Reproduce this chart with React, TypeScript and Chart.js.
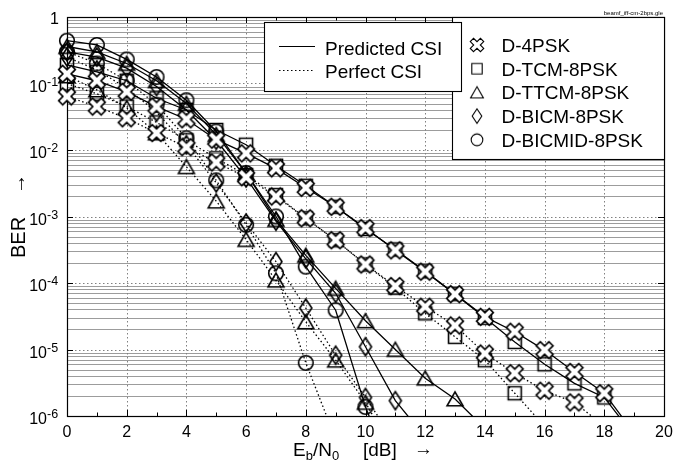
import React, { useEffect, useRef } from "react";
import { Chart, registerables } from "chart.js";
Chart.register(...registerables);

// ---------- data (Eb/N0 in dB, BER) ----------
const EBN0 = [0, 1, 2, 3, 4, 5, 6, 7, 8, 9, 10, 11, 12, 13, 14, 15, 16, 17, 18, 19];

const D4PSK_PREDICTED = [0.14, 0.11, 0.075, 0.045, 0.029, 0.0143, 0.0089, 0.0053, 0.0027, 0.0014, 6.7e-4, 3.1e-4, 1.48e-4, 6.8e-5, 3.1e-5, 1.85e-5, 9.8e-6, 4.6e-6, 2.2e-6, 5.5e-7];
const D4PSK_PERFECT = [0.064, 0.045, 0.03, 0.018, 0.011, 0.0065, 0.0039, 0.002, 9.4e-4, 4.4e-4, 1.9e-4, 9e-5, 4.4e-5, 2.3e-5, 8.7e-6, 4.4e-6, 2.4e-6, 1.6e-6, 7e-7];
const DTCM_PREDICTED = [0.19, 0.15, 0.11, 0.06, 0.04, 0.02, 0.012, 0.0058, 0.0029, 0.0014, 6.5e-4, 3.2e-4, 1.5e-4, 6.8e-5, 3.0e-5, 1.3e-5, 6e-6, 3.1e-6, 1.9e-6, 5e-7];
const DTCM_PERFECT = [0.1, 0.07, 0.045, 0.026, 0.014, 0.0075, 0.0042, 0.0021, 9.4e-4, 4.4e-4, 1.9e-4, 8.5e-5, 3.5e-5, 1.55e-5, 6.9e-6, 2.2e-6, 7e-7];
const DTTCM_PREDICTED = [0.36, 0.3, 0.2, 0.11, 0.05, 0.017, 4.5e-3, 9e-4, 2.6e-4, 8.3e-5, 2.7e-5, 1e-5, 3.7e-6, 1.8e-6, 6.5e-7];
const DTTCM_PERFECT = [0.13, 0.08, 0.043, 0.018, 5.6e-3, 1.7e-3, 4.5e-4, 1.1e-4, 2.6e-5, 6.9e-6, 1.6e-6, 2.5e-7];
const DBICM_PREDICTED = [0.3, 0.25, 0.17, 0.09, 0.04, 0.014, 3.8e-3, 8.5e-4, 2.3e-4, 7e-5, 1.1e-5, 1.7e-6, 4.8e-7];
const DBICM_PERFECT = [0.25, 0.16, 0.085, 0.037, 0.012, 3.2e-3, 8e-4, 2.1e-4, 4.2e-5, 8.2e-6, 1.9e-6, 4e-7];
const DBICMID_PREDICTED = [0.44, 0.38, 0.23, 0.125, 0.056, 0.019, 4.5e-3, 1e-3, 1.76e-4, 3.9e-5, 1.37e-6, 1e-7];
const DBICMID_PERFECT = [0.3, 0.2, 0.11, 0.048, 0.015, 3.5e-3, 7.5e-4, 1.4e-4, 6.3e-6, 4.5e-7];

const SCHEMES = ["D-4PSK", "D-TCM-8PSK", "D-TTCM-8PSK", "D-BICM-8PSK", "D-BICMID-8PSK"];
const MARKERS = ["x", "square", "triangle", "diamond", "circle"];
const CSI_LABELS = ["Predicted CSI", "Perfect CSI"];

const X_TICKS = [0, 2, 4, 6, 8, 10, 12, 14, 16, 18, 20];
const Y_EXPONENTS = [0, -1, -2, -3, -4, -5, -6];
const FILE_NAME = "beamf_iff-cm-2bps.gle";

const FONT = '"Liberation Sans", Arial, Helvetica, sans-serif';

function markerCanvas(kind: string, scale = 1, lw = 1.6): HTMLCanvasElement {
  const size = 26;
  const c = document.createElement("canvas");
  c.width = size;
  c.height = size;
  const ctx = c.getContext("2d") as CanvasRenderingContext2D;
  ctx.translate(size / 2, size / 2);
  ctx.scale(scale, scale);
  ctx.lineWidth = lw / scale;
  ctx.strokeStyle = "#000";
  ctx.lineJoin = "miter";
  ctx.beginPath();
  if (kind === "x") {
    const a = 2.9, L = 9;
    const pts = [[a, L], [a, a], [L, a], [L, -a], [a, -a], [a, -L], [-a, -L], [-a, -a], [-L, -a], [-L, a], [-a, a], [-a, L]];
    const r = Math.PI / 4;
    pts.forEach(([x, y], i) => {
      const xr = x * Math.cos(r) - y * Math.sin(r);
      const yr = x * Math.sin(r) + y * Math.cos(r);
      if (i === 0) ctx.moveTo(xr, yr);
      else ctx.lineTo(xr, yr);
    });
    ctx.closePath();
    ctx.fillStyle = "#fff";
    ctx.fill();
    ctx.stroke();
  } else if (kind === "square") {
    ctx.rect(-6.5, -6.5, 13, 13);
    ctx.stroke();
  } else if (kind === "triangle") {
    ctx.moveTo(0, -7.2);
    ctx.lineTo(8, 6.8);
    ctx.lineTo(-8, 6.8);
    ctx.closePath();
    ctx.stroke();
  } else if (kind === "diamond") {
    ctx.moveTo(0, -9);
    ctx.lineTo(6, 0);
    ctx.lineTo(0, 9);
    ctx.lineTo(-6, 0);
    ctx.closePath();
    ctx.stroke();
  } else {
    ctx.arc(0, 0, 7.3, 0, Math.PI * 2);
    ctx.stroke();
  }
  return c;
}

const SERIES = [
  { name: "D-4PSK predicted", values: D4PSK_PREDICTED, marker: 0, dotted: false },
  { name: "D-4PSK perfect", values: D4PSK_PERFECT, marker: 0, dotted: true },
  { name: "D-TCM-8PSK predicted", values: DTCM_PREDICTED, marker: 1, dotted: false },
  { name: "D-TCM-8PSK perfect", values: DTCM_PERFECT, marker: 1, dotted: true },
  { name: "D-TTCM-8PSK predicted", values: DTTCM_PREDICTED, marker: 2, dotted: false },
  { name: "D-TTCM-8PSK perfect", values: DTTCM_PERFECT, marker: 2, dotted: true },
  { name: "D-BICM-8PSK predicted", values: DBICM_PREDICTED, marker: 3, dotted: false },
  { name: "D-BICM-8PSK perfect", values: DBICM_PERFECT, marker: 3, dotted: true },
  { name: "D-BICMID-8PSK predicted", values: DBICMID_PREDICTED, marker: 4, dotted: false },
  { name: "D-BICMID-8PSK perfect", values: DBICMID_PERFECT, marker: 4, dotted: true },
];

const DOT = [1.5, 2.5];

const decorPlugin = {
  id: "decor",
  beforeDatasetsDraw(chart: any) {
    const { ctx, chartArea: a, scales } = chart;
    const xs = scales.x, ys = scales.y;
    ctx.save();
    // minor horizontal grid (solid grey)
    ctx.strokeStyle = "#9c9c9c";
    ctx.lineWidth = 1;
    for (let e = -6; e < 0; e++) {
      for (let m = 2; m <= 9; m++) {
        const y = Math.round(ys.getPixelForValue(m * Math.pow(10, e))) + 0.5;
        ctx.beginPath();
        ctx.moveTo(a.left, y);
        ctx.lineTo(a.right, y);
        ctx.stroke();
      }
    }
    // major horizontal grid (dotted)
    ctx.setLineDash(DOT);
    ctx.strokeStyle = "#808080";
    for (let e = -5; e < 0; e++) {
      const y = Math.round(ys.getPixelForValue(Math.pow(10, e))) + 0.5;
      ctx.beginPath();
      ctx.moveTo(a.left, y);
      ctx.lineTo(a.right, y);
      ctx.stroke();
    }
    // vertical grid (dotted)
    X_TICKS.slice(1, -1).forEach((v) => {
      const x = Math.round(xs.getPixelForValue(v)) + 0.5;
      ctx.beginPath();
      ctx.moveTo(x, a.top);
      ctx.lineTo(x, a.bottom);
      ctx.stroke();
    });
    ctx.setLineDash([]);
    // ticks
    ctx.strokeStyle = "#000";
    for (let v = 0; v <= 20; v++) {
      const x = Math.round(xs.getPixelForValue(v)) + 0.5;
      const len = v % 2 === 0 ? 6 : 3.5;
      ctx.beginPath();
      ctx.moveTo(x, a.bottom);
      ctx.lineTo(x, a.bottom - len);
      ctx.moveTo(x, a.top);
      ctx.lineTo(x, a.top + len);
      ctx.stroke();
    }
    Y_EXPONENTS.forEach((e) => {
      const y = Math.round(ys.getPixelForValue(Math.pow(10, e))) + 0.5;
      ctx.beginPath();
      ctx.moveTo(a.left, y);
      ctx.lineTo(a.left + 6, y);
      ctx.moveTo(a.right, y);
      ctx.lineTo(a.right - 6, y);
      ctx.stroke();
    });
    // frame
    ctx.lineWidth = 1.2;
    ctx.strokeRect(Math.round(a.left) + 0.5, Math.round(a.top) + 0.5, Math.round(a.right - a.left), Math.round(a.bottom - a.top));
    ctx.restore();
  },
  afterDatasetsDraw(chart: any) {
    const { ctx, chartArea: a, scales } = chart;
    const xs = scales.x, ys = scales.y;
    ctx.save();
    ctx.fillStyle = "#000";
    ctx.textBaseline = "alphabetic";

    // legend box 2 (schemes)
    ctx.fillStyle = "#fff";
    ctx.fillRect(452, a.top, a.right - 452, 159 - a.top);
    ctx.strokeStyle = "#000";
    ctx.lineWidth = 1.1;
    ctx.strokeRect(452.5, Math.round(a.top) + 0.5, Math.round(a.right) - 452, 159 - Math.round(a.top));
    ctx.fillStyle = "#000";
    ctx.font = `19px ${FONT}`;
    ctx.textAlign = "left";
    SCHEMES.forEach((s, i) => {
      const cy = 45 + 23.7 * i;
      const m = markerCanvas(MARKERS[i], 0.8, 1.1);
      ctx.drawImage(m, 477 - m.width / 2, cy - m.height / 2);
      ctx.fillText(s, 501.5, cy + 7);
    });

    // legend box 1 (CSI)
    ctx.fillStyle = "#fff";
    ctx.fillRect(264.5, 22.5, 197, 69);
    ctx.strokeStyle = "#000";
    ctx.strokeRect(264.5, 22.5, 197, 69);
    ctx.lineWidth = 1.2;
    ctx.beginPath();
    ctx.moveTo(279, 46.5);
    ctx.lineTo(315, 46.5);
    ctx.stroke();
    ctx.setLineDash(DOT);
    ctx.beginPath();
    ctx.moveTo(279, 70.5);
    ctx.lineTo(315, 70.5);
    ctx.stroke();
    ctx.setLineDash([]);
    ctx.fillStyle = "#000";
    ctx.fillText(CSI_LABELS[0], 325, 54.5);
    ctx.fillText(CSI_LABELS[1], 325, 78);

    // x tick labels
    ctx.font = `16px ${FONT}`;
    ctx.textAlign = "center";
    X_TICKS.forEach((v) => {
      ctx.fillText(String(v), xs.getPixelForValue(v), a.bottom + 20.5);
    });
    // y tick labels
    Y_EXPONENTS.forEach((e) => {
      const y = ys.getPixelForValue(Math.pow(10, e));
      if (e === 0) {
        ctx.font = `16px ${FONT}`;
        ctx.textAlign = "right";
        ctx.fillText("1", 59, y + 7);
      } else {
        ctx.font = `16px ${FONT}`;
        ctx.textAlign = "right";
        ctx.fillText("10", 47, y + 8);
        ctx.font = `12.5px ${FONT}`;
        ctx.textAlign = "left";
        ctx.fillText(String(e), 47, y + 2.3);
      }
    });

    // x axis title: E_b/N_0 [dB] ->
    const by = 456;
    let x = 293;
    const seg = (t: string, size: number, dy: number) => {
      ctx.font = `${size}px ${FONT}`;
      ctx.textAlign = "left";
      ctx.fillText(t, x, by + dy);
      x += ctx.measureText(t).width;
    };
    seg("E", 19, 0);
    seg("b", 13, 4);
    seg("/N", 19, 0);
    seg("0", 13, 4);
    x = 363;
    seg("[dB]", 19, 0);
    x = 414;
    seg("\u2192", 19, -1);

    // y axis title: BER ->
    ctx.save();
    ctx.translate(25, 258);
    ctx.rotate(-Math.PI / 2);
    ctx.font = `20px ${FONT}`;
    ctx.textAlign = "left";
    ctx.fillText("BER", 0, 0);
    ctx.fillText("\u2192", 64, 0);
    ctx.restore();

    // file name
    ctx.font = `6px ${FONT}`;
    ctx.textAlign = "right";
    ctx.fillText(FILE_NAME, 663, 15);
    ctx.restore();
  },
};

export default function App() {
  const ref = useRef<HTMLCanvasElement | null>(null);
  useEffect(() => {
    if (!ref.current) return;
    const datasets = SERIES.map((s) => ({
      label: s.name,
      data: s.values.map((v, i) => ({ x: EBN0[i], y: v })),
      borderColor: "#000",
      borderWidth: 1.3,
      borderDash: s.dotted ? DOT : [],
      pointStyle: markerCanvas(MARKERS[s.marker]),
      pointRadius: 7,
      pointHoverRadius: 7,
      pointBorderColor: "#000",
      pointBackgroundColor: "transparent",
      fill: false,
      tension: 0,
      clip: { left: 14, top: 14, right: 14, bottom: 0 },
    }));
    const chart = new Chart(ref.current, {
      type: "line",
      data: { datasets: datasets as any },
      options: {
        animation: false,
        responsive: false,
        devicePixelRatio: 1,
        events: [],
        layout: { padding: { left: 67, top: 17, right: 12, bottom: 45 } },
        scales: {
          x: { type: "linear", min: 0, max: 20, display: false },
          y: { type: "logarithmic", min: 1e-6, max: 1, display: false },
        },
        plugins: { legend: { display: false }, tooltip: { enabled: false } },
      },
      plugins: [decorPlugin],
    });
    return () => chart.destroy();
  }, []);
  return (
    <div style={{ position: "fixed", left: 0, top: 0, width: 676, height: 461, background: "#fff" }}>
      <canvas ref={ref} width={676} height={461} style={{ display: "block" }} />
    </div>
  );
}
